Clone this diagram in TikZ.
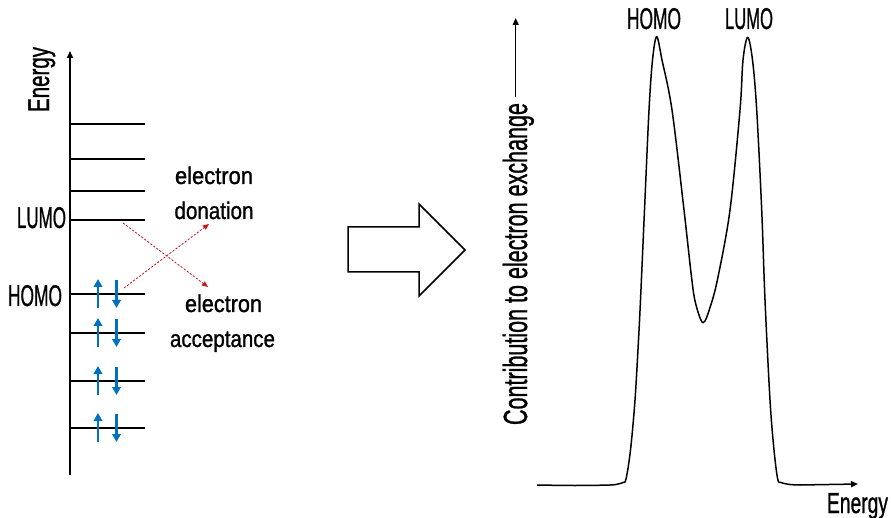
\documentclass[tikz,border=0pt]{standalone}
\usepackage{fontspec}
\usepackage{graphicx}
\setmainfont{Liberation Sans}
\newfontfamily\labelfont{Liberation Sans}[FakeBold=1.2]
\usetikzlibrary{arrows.meta}

% text set at a given size, then squeezed horizontally to a given width
\newlength\lblw
\newcommand\fitlabel[3]{{\labelfont\fontsize{#2}{#2}\selectfont
  \settowidth\lblw{#3}\pgfmathsetmacro\lblsx{#1/\lblw}%
  \scalebox{\lblsx}[1]{#3}}}

\definecolor{spinblue}{RGB}{0,112,192}
\definecolor{xferred}{RGB}{200,20,20}

\begin{document}
\begin{tikzpicture}[x=1pt,y=-1pt,
  axisline/.style={line width=1.5pt,-{Triangle[length=7pt,width=6pt]}},
  levelline/.style={line width=1.5pt},
  spin/.style={spinblue,line width=2.8pt,-{Triangle[length=8pt,width=8.5pt]}},
  transfer/.style={xferred,line width=0.8pt,dash pattern=on 2.2pt off 1.6pt,
                   -{Triangle[length=6pt,width=5pt]}},
  txt/.style={inner sep=0pt,outer sep=0pt},
  curve/.style={line width=1.5pt,line join=round},
  blockarrow/.style={line width=1.5pt,line join=miter,fill=white}]

\useasboundingbox (0,0) rectangle (891,518);
\fill[white] (0,0) rectangle (891,518);

% ---------- orbital level diagram ----------
\coordinate (ebot) at (70,475);
\coordinate (etop) at (70,51);
\draw[axisline] (ebot) -- (etop);
\node[txt,rotate=90,anchor=base west] (elab) at (49,112) {\fitlabel{65pt}{30}{Energy}};

% unoccupied levels (LUMO is the lowest of them)
\foreach \n/\y in {u3/124,u2/159,u1/191,lumo/220}{
  \coordinate (\n a) at (70,\y);
  \coordinate (\n b) at (145,\y);
  \draw[levelline] (\n a) -- (\n b);
}
% occupied levels, each with a spin pair
\foreach \n/\y in {homo/294,o1/333,o2/381,o3/428}{
  \coordinate (\n a) at (70,\y);
  \coordinate (\n b) at (145,\y);
  \draw[levelline] (\n a) -- (\n b);
  \coordinate (\n upb) at (98,\y+14);
  \coordinate (\n upt) at (98,\y-15);
  \coordinate (\n dnt) at (116.5,\y-14);
  \coordinate (\n dnb) at (116.5,\y+14);
  \draw[spin] (\n upb) -- (\n upt);
  \draw[spin] (\n dnt) -- (\n dnb);
}

\node[txt,anchor=base east] (lumolab) at (66,228) {\fitlabel{49pt}{30}{LUMO}};
\node[txt,anchor=base east] (homolab) at (62,306) {\fitlabel{54pt}{30}{HOMO}};

% electron transfer paths
\coordinate (fromlumo) at (123,223);
\coordinate (toaccept) at (208,287);
\coordinate (fromhomo) at (124,288);
\coordinate (todonate) at (209,224);
\draw[transfer] (fromlumo) -- (toaccept);
\draw[transfer] (fromhomo) -- (todonate);

\node[txt,anchor=base] (don1) at (214,184) {\fitlabel{78pt}{24}{electron}};
\node[txt,anchor=base] (don2) at (214,219) {\fitlabel{79pt}{24}{donation}};
\node[txt,anchor=base] (acc1) at (223.5,312) {\fitlabel{77pt}{24}{electron}};
\node[txt,anchor=base] (acc2) at (222.5,347) {\fitlabel{105pt}{24}{acceptance}};

% ---------- block arrow ----------
\draw[blockarrow] (348,227) -- (419,227) -- (419,204) -- (465,250)
  -- (419,296) -- (419,272) -- (348,272) -- cycle;

% ---------- exchange contribution plot ----------
\node[txt,rotate=90,anchor=base west] (ylab) at (527,425)
  {\fitlabel{322pt}{33.5}{Contribution to electron exchange}};
\coordinate (yax0) at (515.7,97);
\coordinate (yax1) at (515.7,18);
\draw[axisline,line width=1.2pt] (yax0) -- (yax1);

\coordinate (xend) at (858,484);
\draw[curve,-{Triangle[length=7pt,width=6pt]}] plot[smooth,tension=0.55] coordinates {
  (537,485) (575,485.5) (610,485) (618,484) (623,482.5) (626,479)
  (630.5,450) (635,400) (638.5,340) (640.5,300) (644.5,210) (649,110) (652.5,60)
  (656.7,36.7) (662,60) (672,110) (684,210) (691.5,277) (695.5,303)
  (703,322.7) (710.5,306) (718,277) (730,210) (740,110) (743,60)
  (747.7,37.3) (752.5,60) (756.7,110) (761.7,210) (765,300) (770,400)
  (774,450) (777.7,479) (781,482.5) (790,484.5) (800,485)} -- (xend);

\node[txt,anchor=base] (homopk) at (654,29) {\fitlabel{54pt}{30}{HOMO}};
\node[txt,anchor=base] (lumopk) at (749,29) {\fitlabel{48pt}{30}{LUMO}};
\node[txt,anchor=base west] (xlab) at (827,513) {\fitlabel{61pt}{29}{Energy}};

\end{tikzpicture}
\end{document}
